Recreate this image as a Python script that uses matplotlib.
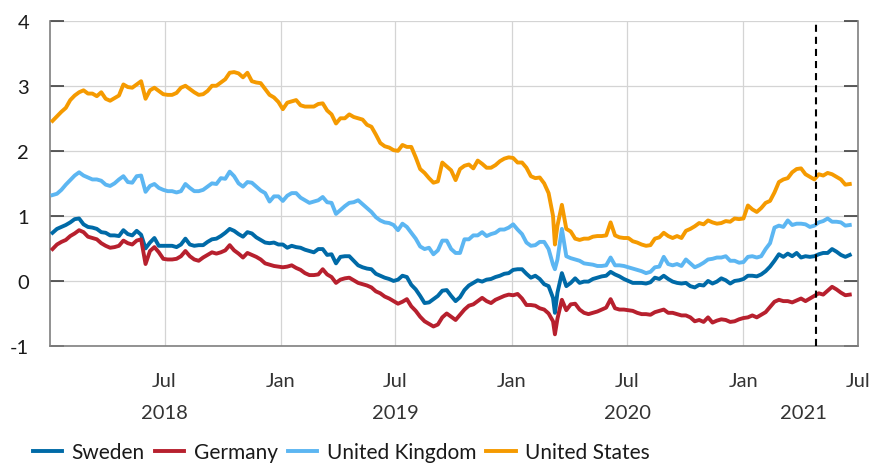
import matplotlib
matplotlib.use("Agg")
import matplotlib.pyplot as plt
import matplotlib.transforms as mtransforms
import pandas as pd

plt.rcParams['font.family'] = ['Lato', 'DejaVu Sans']

# weekly observations (Fridays), 10-year government bond yields, per cent
week_start = '2018-01-05'
n_weeks = 181
# one extra observation to catch the March 2020 low
extra_date = '2020-03-09'

sweden = [
    0.74, 0.80, 0.83, 0.86, 0.90, 0.95, 0.96, 0.87, 0.83, 0.82,
    0.80, 0.75, 0.74, 0.70, 0.70, 0.69, 0.78, 0.72, 0.70, 0.77,
    0.71, 0.50, 0.59, 0.66, 0.54, 0.54, 0.54, 0.54, 0.52, 0.56,
    0.65, 0.56, 0.54, 0.55, 0.55, 0.60, 0.64, 0.65, 0.69, 0.74,
    0.80, 0.77, 0.72, 0.68, 0.75, 0.73, 0.67, 0.63, 0.59, 0.58,
    0.59, 0.56, 0.56, 0.51, 0.54, 0.52, 0.51, 0.48, 0.46, 0.44,
    0.49, 0.49, 0.40, 0.41, 0.27, 0.37, 0.38, 0.38, 0.31, 0.24,
    0.21, 0.19, 0.18, 0.11, 0.08, 0.05, 0.03, 0.00, 0.02, 0.08,
    0.06, -0.06, -0.13, -0.23, -0.34, -0.33, -0.28, -0.23, -0.15, -0.14,
    -0.23, -0.31, -0.25, -0.14, -0.07, -0.03, 0.01, -0.01, 0.02, 0.03,
    0.06, 0.08, 0.11, 0.12, 0.17, 0.18, 0.18, 0.11, 0.05, 0.08,
    0.03, -0.05, -0.08, -0.26, -0.18, 0.12, -0.08, -0.03, 0.04, -0.03,
    -0.01, -0.01, 0.03, 0.05, 0.07, 0.08, 0.14, 0.10, 0.07, 0.03,
    0.00, -0.03, -0.03, -0.03, -0.04, -0.02, 0.05, 0.03, 0.08, 0.03,
    -0.01, -0.03, -0.04, -0.03, -0.08, -0.10, -0.06, -0.07, 0.00, -0.04,
    -0.01, 0.04, 0.01, -0.04, 0.00, 0.01, 0.03, 0.08, 0.08, 0.07,
    0.10, 0.15, 0.22, 0.31, 0.41, 0.37, 0.42, 0.38, 0.43, 0.36,
    0.38, 0.37, 0.38, 0.41, 0.43, 0.43, 0.49, 0.45, 0.40, 0.37, 0.40,
]
germany = [
    0.49, 0.56, 0.60, 0.63, 0.69, 0.73, 0.78, 0.75, 0.68, 0.66,
    0.64, 0.58, 0.54, 0.51, 0.52, 0.54, 0.62, 0.58, 0.56, 0.62,
    0.64, 0.26, 0.46, 0.52, 0.44, 0.34, 0.33, 0.33, 0.34, 0.38,
    0.46, 0.38, 0.33, 0.31, 0.36, 0.40, 0.44, 0.42, 0.44, 0.47,
    0.55, 0.47, 0.42, 0.36, 0.43, 0.40, 0.37, 0.33, 0.27, 0.25,
    0.23, 0.22, 0.21, 0.22, 0.24, 0.20, 0.17, 0.12, 0.09, 0.09,
    0.10, 0.18, 0.10, 0.06, -0.03, 0.02, 0.04, 0.05, 0.01, -0.03,
    -0.05, -0.07, -0.10, -0.16, -0.19, -0.24, -0.27, -0.31, -0.35, -0.32,
    -0.28, -0.39, -0.46, -0.55, -0.62, -0.66, -0.70, -0.67, -0.56, -0.50,
    -0.55, -0.60, -0.52, -0.44, -0.38, -0.36, -0.31, -0.26, -0.31, -0.34,
    -0.29, -0.26, -0.23, -0.21, -0.22, -0.20, -0.27, -0.37, -0.37, -0.38,
    -0.42, -0.44, -0.50, -0.62, -0.58, -0.29, -0.45, -0.36, -0.35, -0.44,
    -0.49, -0.51, -0.49, -0.47, -0.44, -0.41, -0.28, -0.42, -0.44, -0.44,
    -0.45, -0.46, -0.49, -0.51, -0.51, -0.52, -0.48, -0.46, -0.44, -0.49,
    -0.49, -0.51, -0.53, -0.53, -0.56, -0.62, -0.60, -0.63, -0.56, -0.64,
    -0.61, -0.59, -0.60, -0.63, -0.62, -0.59, -0.57, -0.56, -0.53, -0.56,
    -0.52, -0.48, -0.40, -0.32, -0.29, -0.31, -0.31, -0.33, -0.30, -0.27,
    -0.31, -0.27, -0.23, -0.19, -0.21, -0.15, -0.09, -0.13, -0.18, -0.22, -0.21,
]
united_kingdom = [
    1.32, 1.34, 1.40, 1.48, 1.55, 1.62, 1.67, 1.62, 1.59, 1.56,
    1.56, 1.54, 1.48, 1.46, 1.50, 1.56, 1.61, 1.52, 1.51, 1.61,
    1.62, 1.37, 1.46, 1.49, 1.43, 1.40, 1.38, 1.38, 1.36, 1.38,
    1.49, 1.43, 1.38, 1.38, 1.40, 1.45, 1.50, 1.49, 1.58, 1.57,
    1.68, 1.61, 1.50, 1.45, 1.52, 1.51, 1.45, 1.39, 1.35, 1.22,
    1.30, 1.30, 1.23, 1.31, 1.35, 1.35, 1.28, 1.24, 1.20, 1.22,
    1.24, 1.29, 1.21, 1.20, 1.03, 1.09, 1.15, 1.20, 1.21, 1.24,
    1.18, 1.12, 1.06, 0.98, 0.93, 0.90, 0.89, 0.86, 0.78, 0.88,
    0.83, 0.74, 0.65, 0.53, 0.49, 0.51, 0.41, 0.47, 0.62, 0.62,
    0.49, 0.43, 0.43, 0.64, 0.64, 0.70, 0.70, 0.75, 0.69, 0.72,
    0.74, 0.79, 0.79, 0.82, 0.87, 0.79, 0.72, 0.59, 0.54, 0.55,
    0.60, 0.60, 0.49, 0.25, 0.33, 0.80, 0.38, 0.35, 0.33, 0.31,
    0.27, 0.26, 0.25, 0.23, 0.23, 0.24, 0.36, 0.24, 0.24, 0.23,
    0.21, 0.19, 0.17, 0.15, 0.12, 0.14, 0.21, 0.22, 0.37, 0.26,
    0.24, 0.26, 0.23, 0.33, 0.27, 0.21, 0.24, 0.28, 0.33, 0.34,
    0.36, 0.36, 0.38, 0.31, 0.31, 0.28, 0.29, 0.37, 0.38, 0.36,
    0.38, 0.49, 0.58, 0.82, 0.85, 0.83, 0.93, 0.86, 0.88, 0.88,
    0.87, 0.83, 0.85, 0.90, 0.92, 0.96, 0.91, 0.91, 0.90, 0.85, 0.86,
]
united_states = [
    2.46, 2.53, 2.60, 2.66, 2.78, 2.85, 2.90, 2.93, 2.88, 2.88,
    2.84, 2.90, 2.80, 2.77, 2.81, 2.85, 3.02, 2.98, 2.97, 3.02,
    3.07, 2.80, 2.93, 2.97, 2.92, 2.87, 2.86, 2.86, 2.89, 2.97,
    3.00, 2.95, 2.90, 2.86, 2.87, 2.92, 3.00, 3.00, 3.05, 3.10,
    3.20, 3.21, 3.19, 3.13, 3.20, 3.07, 3.05, 3.04, 2.95, 2.86,
    2.82, 2.75, 2.64, 2.74, 2.76, 2.78, 2.70, 2.68, 2.68, 2.68,
    2.72, 2.73, 2.62, 2.56, 2.42, 2.50, 2.50, 2.56, 2.52, 2.50,
    2.48, 2.40, 2.37, 2.25, 2.12, 2.07, 2.05, 2.01, 2.00, 2.09,
    2.06, 2.06, 1.90, 1.72, 1.66, 1.58, 1.51, 1.53, 1.82, 1.76,
    1.70, 1.55, 1.72, 1.77, 1.79, 1.73, 1.85, 1.80, 1.74, 1.74,
    1.78, 1.84, 1.88, 1.90, 1.89, 1.82, 1.82, 1.74, 1.61, 1.58,
    1.59, 1.50, 1.35, 1.00, 0.85, 1.17, 0.80, 0.76, 0.65, 0.63,
    0.65, 0.65, 0.68, 0.69, 0.69, 0.70, 0.90, 0.70, 0.67, 0.66,
    0.66, 0.61, 0.59, 0.56, 0.54, 0.55, 0.65, 0.67, 0.74, 0.69,
    0.66, 0.69, 0.66, 0.77, 0.80, 0.84, 0.89, 0.87, 0.93, 0.90,
    0.88, 0.89, 0.92, 0.91, 0.96, 0.95, 0.96, 1.16, 1.10, 1.06,
    1.12, 1.20, 1.23, 1.36, 1.52, 1.56, 1.58, 1.67, 1.72, 1.73,
    1.64, 1.60, 1.56, 1.64, 1.62, 1.66, 1.64, 1.60, 1.56, 1.48, 1.49,
]
extra_values = {'Sweden': -0.49, 'Germany': -0.82,
                'United Kingdom': 0.18, 'United States': 0.56}

series_names = ['Sweden', 'Germany', 'United Kingdom', 'United States']
series_values = [sweden, germany, united_kingdom, united_states]
series_colors = ['#006aa7', '#b7202e', '#5cb6f2', '#f59a00']

month_ticks = ['2018-07-01', '2019-01-01', '2019-07-01', '2020-01-01',
               '2020-07-01', '2021-01-01', '2021-07-01']
month_labels = ['Jul', 'Jan', 'Jul', 'Jan', 'Jul', 'Jan', 'Jul']
year_labels = ['2018', '2019', '2020', '2021']
year_positions = ['2018-07-01', '2019-07-01', '2020-07-01', '2021-04-05']
marker_date = '2021-04-26'

weeks = pd.date_range(week_start, periods=n_weeks, freq='7D')

fig = plt.figure(figsize=(8.72, 4.64), dpi=100)
ax = fig.add_axes([50 / 872, 1 - 347 / 464, 808 / 872, 325.3 / 464])

for name, vals, col in zip(series_names, series_values, series_colors):
    s = pd.Series(vals, index=weeks)
    s.loc[pd.Timestamp(extra_date)] = extra_values[name]
    s = s.sort_index()
    ax.plot(s.index, s.values, color=col, lw=2.8, label=name,
            solid_joinstyle='round', zorder=3)

ax.axvline(pd.Timestamp(marker_date), color='black', lw=1.5,
           ls=(0, (3.4, 2.4)), zorder=4)

ax.set_xlim(pd.Timestamp('2018-01-01'), pd.Timestamp('2021-07-01'))
ax.set_ylim(-1, 4)
ax.set_yticks(range(-1, 5))
ax.set_yticklabels([str(v) for v in range(-1, 5)])
ax.set_xticks(pd.to_datetime(month_ticks))
ax.set_xticklabels(month_labels)

ax.grid(True, color='#d4d4d4', lw=0.9, zorder=0)
ax.set_axisbelow(True)
ax.spines['top'].set_visible(False)
for side in ['left', 'right', 'bottom']:
    ax.spines[side].set_color('#7f7f7f')
    ax.spines[side].set_linewidth(1.2)

ax.tick_params(axis='y', direction='in', length=10, width=1.2,
               color='#404040', right=True, labelsize=14.5, pad=15,
               labelcolor='#1a1a1a')
ax.tick_params(axis='x', length=0, labelsize=14.5, pad=19,
               labelcolor='#333333')

trans = mtransforms.blended_transform_factory(ax.transData, ax.transAxes)
for lab, pos in zip(year_labels, year_positions):
    ax.text(pd.Timestamp(pos), -0.205, lab, transform=trans, ha='center',
            va='center', fontsize=14.5, color='#333333')

fig.legend(loc='center left', bbox_to_anchor=(33 / 872, 1 - 453 / 464),
           ncol=4, frameon=False, fontsize=15, handlelength=1.4,
           handletextpad=0.45, columnspacing=0.5, borderaxespad=0,
           borderpad=0, labelcolor='#1a1a1a')

fig.savefig('out.png', dpi=100)
plt.close(fig)
